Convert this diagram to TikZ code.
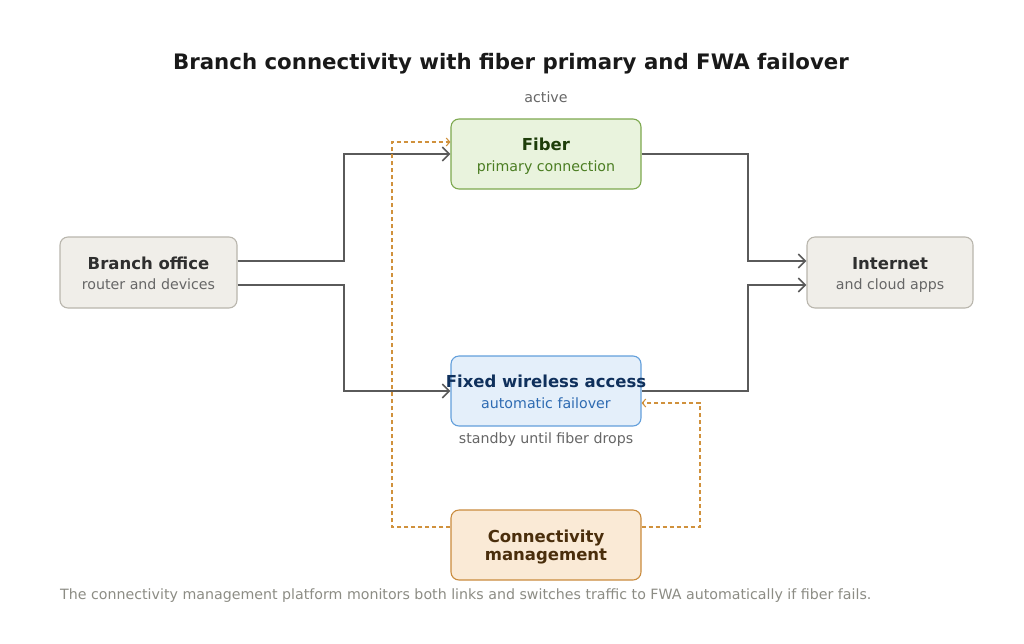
\documentclass[tikz,border=0pt]{standalone}
\usepackage{fontspec}
\setmainfont{DejaVu Sans}
\usetikzlibrary{arrows.meta}

\definecolor{linegray}{HTML}{5A5A5A}
\definecolor{mgmtline}{HTML}{D0913C}
\definecolor{fiberfill}{HTML}{E9F3DD}
\definecolor{fiberdraw}{HTML}{7DA84E}
\definecolor{fibertitle}{HTML}{1E3D0A}
\definecolor{fibersub}{HTML}{4B7D22}
\definecolor{fwafill}{HTML}{E4EFFA}
\definecolor{fwadraw}{HTML}{629FDB}
\definecolor{fwatitle}{HTML}{0F305C}
\definecolor{fwasub}{HTML}{2E6BB2}
\definecolor{sitefill}{HTML}{F0EEE9}
\definecolor{sitedraw}{HTML}{B9B6AD}
\definecolor{sitetitle}{HTML}{2F2F2F}
\definecolor{sitesub}{HTML}{666666}
\definecolor{mgmtfill}{HTML}{FAEAD6}
\definecolor{mgmtdraw}{HTML}{C98B3D}
\definecolor{mgmttitle}{HTML}{4A2E0C}
\definecolor{notegray}{HTML}{666666}
\definecolor{captiongray}{HTML}{8C8C84}

\tikzset{
  box/.style={draw, line width=1.1pt, rounded corners=8pt, minimum width=190pt, minimum height=70pt, inner sep=0pt},
  ttl/.style={font=\fontsize{16.5}{19}\selectfont\bfseries, inner sep=0pt, anchor=base},
  sub/.style={font=\fontsize{14.2}{17}\selectfont, inner sep=0pt, anchor=base},
  link/.style={draw=linegray, line width=1.6pt, -{Straight Barb[length=7pt,width=14pt,line width=1.6pt]}},
  ctrl/.style={draw=mgmtline, line width=1.1pt, dash pattern=on 4pt off 3pt, -{Straight Barb[length=3.5pt,width=8pt,line width=1.1pt]}}
}

\begin{document}
\begin{tikzpicture}[x=1pt,y=-1pt]
  \useasboundingbox (0,0) rectangle (1024,643);

  % Title
  \node[font=\fontsize{21.3}{25}\selectfont\bfseries, text=black!90] (title) at (511,63.5) {Branch connectivity with fiber primary and FWA failover};

  % Boxes
  \node[box, fill=sitefill, draw=sitedraw, minimum width=177pt, minimum height=71pt] (branch) at (148.5,272.5) {};
  \node[box, fill=fiberfill, draw=fiberdraw] (fiber) at (546,154) {};
  \node[box, fill=fwafill, draw=fwadraw] (fwa) at (546,391) {};
  \node[box, fill=sitefill, draw=sitedraw, minimum width=166pt, minimum height=71pt] (internet) at (890,272.5) {};
  \node[box, fill=mgmtfill, draw=mgmtdraw] (mgmt) at (546,545) {};

  % Box texts (baselines)
  \node[ttl, text=sitetitle] (branch-t) at (148.5,269.3) {Branch office};
  \node[sub, text=sitesub] (branch-s) at (148.5,289.5) {router and devices};
  \node[ttl, text=fibertitle] (fiber-t) at (546,150.4) {Fiber};
  \node[sub, text=fibersub] (fiber-s) at (546,171.3) {primary connection};
  \node[ttl, text=fwatitle] (fwa-t) at (546,387.5) {Fixed wireless access};
  \node[sub, text=fwasub] (fwa-s) at (546,408.5) {automatic failover};
  \node[ttl, text=sitetitle] (internet-t) at (890,269.3) {Internet};
  \node[sub, text=sitesub] (internet-s) at (890,289.5) {and cloud apps};
  \node[ttl, text=mgmttitle] (mgmt-t) at (546,542) {Connectivity};
  \node[ttl, text=mgmttitle] (mgmt-t2) at (546,560) {management};

  % Notes
  \node[sub, text=notegray, anchor=center] (active) at (546,97.5) {active};
  \node[sub, text=notegray, anchor=center] (standby) at (546,439.5) {standby until fiber drops};
  \node[sub, text=captiongray, anchor=west] (caption) at (60,596) {The connectivity management platform monitors both links and switches traffic to FWA automatically if fiber fails.};

  % Traffic paths
  \draw[link] ([yshift=11.5pt]branch.east) -| (344,154) -- (fiber.west);
  \draw[link] ([yshift=-12.5pt]branch.east) -| (344,391) -- (fwa.west);
  \draw[link] (fiber.east) -| (748,261) -- ([yshift=11.5pt]internet.west);
  \draw[link] (fwa.east) -| (748,285) -- ([yshift=-12.5pt]internet.west);

  % Management links
  \draw[ctrl] ([yshift=18pt]mgmt.west) -| (392,142) -- ([yshift=12pt]fiber.west);
  \draw[ctrl] ([yshift=18pt]mgmt.east) -| (700,403) -- ([yshift=-12pt]fwa.east);

\end{tikzpicture}
\end{document}
